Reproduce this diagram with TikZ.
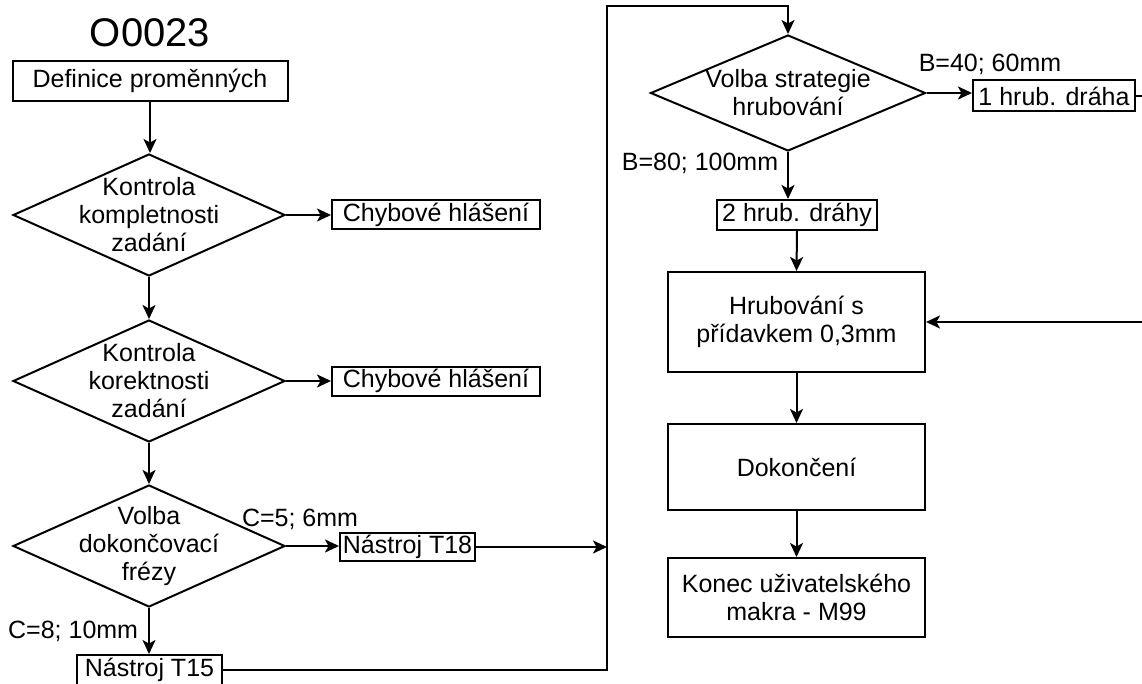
\documentclass[tikz,border=0pt]{standalone}
\usepackage{fontspec}
\setmainfont{Liberation Sans}
\usepackage{tikz}
\usetikzlibrary{arrows.meta,shapes.geometric}
\tikzset{
        box/.style={rectangle,draw,line width=2pt,inner sep=2pt,text centered,align=center},
        decision/.style={diamond,draw,line width=2pt,inner sep=-14pt,aspect=2.2,align=center,minimum width=272pt,minimum height=122pt},
        flow/.style={line width=2pt,-{Stealth[length=14pt,width=13pt,inset=3.5pt]}},
        cond/.style={inner sep=0pt}
    }

\begin{document}
\begin{tikzpicture}[x=1pt,y=-1pt,font=\fontsize{25}{28}\selectfont]
\useasboundingbox (0,0) rectangle (1142,684);
\node(title) at (150,33) {\fontsize{40}{42}\selectfont O0023};
\node(def)[box,minimum width=275pt,minimum height=40pt] at (150,81) {Definice proměnných};
\node(d1)[decision] at (149,215) {Kontrola\\kompletnosti\\zadání};
\node(err1)[box,minimum width=208pt,minimum height=29pt] at (436,215) {Chybové hlášení};
\node(d2)[decision] at (149,381) {Kontrola\\korektnosti\\zadání};
\node(err2)[box,minimum width=208pt,minimum height=29pt] at (436,381) {Chybové hlášení};
\node(d3)[decision] at (149,546) {Volba\\dokončovací\\frézy};
\node(t18)[box,minimum width=135pt,minimum height=28pt] at (407.5,547) {Nástroj T18};
\node(t15)[box,minimum width=145pt,minimum height=30pt] at (149.5,670) {Nástroj T15};
\node(c5)[cond] at (300,519) {C=5; 6mm};
\node(c8)[cond,anchor=west] at (8,631) {C=8; 10mm};
\coordinate(join) at (607,546);
\coordinate(top) at (607,6);
\node(d4)[decision,minimum width=275pt,minimum height=116pt] at (788,93) {Volba strategie\\hrubování};
\node(h1)[box,minimum width=162pt,minimum height=31pt] at (1054,96) {1 hrub. dráha};
\node(h2)[box,minimum width=160pt,minimum height=30pt] at (797,215) {2 hrub. dráhy};
\node(b40)[cond] at (990,64) {B=40; 60mm};
\node(b80)[cond] at (700,163) {B=80; 100mm};
\node(hrub)[box,minimum width=257pt,minimum height=100pt] at (796.5,322) {Hrubování s\\přídavkem 0,3mm};
\node(dok)[box,minimum width=257pt,minimum height=86pt] at (796.5,467) {Dokončení};
\node(konec)[box,minimum width=257pt,minimum height=79pt] at (796.5,597.5) {Konec uživatelského\\makra - M99};
\coordinate(back) at (1150,322);

\draw[flow] (def.south) -- (def.south |- d1.north);
\draw[flow] (d1.south) -- (d2.north);
\draw[flow] (d2.south) -- (d3.north);
\draw[flow] (d3.south) -- (d3.south |- t15.north);
\draw[flow] (d1.east) -- (err1.west);
\draw[flow] (d2.east) -- (err2.west);
\draw[flow] (d3.east) -- (d3.east -| t18.west);
\draw[flow] (t18.east) -- (t18.east -| join);
\draw[line width=2pt] (join) -- (top);
\draw[flow] (t15.east) -| (top) -| (d4.north);
\draw[flow] (d4.east) -- (d4.east -| h1.west);
\draw[flow] (d4.south) -- (d4.south |- h2.north);
\draw[flow] (h1.east) -| (back) -- (hrub.east);
\draw[flow] (h2.south) -- (hrub.north);
\draw[flow] (hrub.south) -- (dok.north);
\draw[flow] (dok.south) -- (konec.north);

\end{tikzpicture}
\end{document}
